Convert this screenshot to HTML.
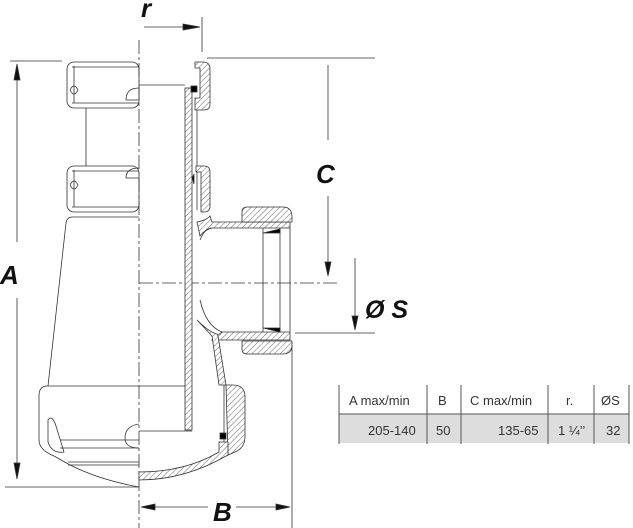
<!DOCTYPE html>
<html><head><meta charset="utf-8"><style>
html,body{margin:0;padding:0;background:#fff;}
svg{display:block;}
text{font-family:"Liberation Sans",sans-serif;}
</style></head><body>
<svg width="633" height="528" viewBox="0 0 633 528" xmlns="http://www.w3.org/2000/svg">
<defs>
<pattern id="h" patternUnits="userSpaceOnUse" width="4" height="4" patternTransform="rotate(45)">
<rect width="4" height="4" fill="#fff"/><line x1="0" y1="0" x2="0" y2="4" stroke="#444" stroke-width="0.8"/>
</pattern>
</defs>
<g fill="none" stroke="#333" stroke-width="0.8">
<!-- center line -->
<line x1="139" y1="40" x2="139" y2="528" stroke-dasharray="14,3,3,3"/>
<line x1="139" y1="283" x2="340" y2="283" stroke-dasharray="14,3,3,3"/>
<!-- r dimension -->
<line x1="144" y1="27" x2="195" y2="27"/>
<polygon points="183,24 200,27 183,30" fill="#111"/>
<line x1="202" y1="17" x2="202" y2="52"/>
<!-- top lines -->
<line x1="207" y1="58" x2="375" y2="58"/>
<line x1="10" y1="61" x2="62" y2="61"/>
<!-- A dimension -->
<line x1="17" y1="70" x2="17" y2="242"/>
<line x1="17" y1="298" x2="17" y2="472"/>
<polygon points="14,80 17,64 20,80" fill="#111"/>
<polygon points="14,463 17,479 20,463" fill="#111"/>
<line x1="5" y1="487" x2="139" y2="487"/>
<!-- left: nuts -->
<rect x="67" y="62" width="72" height="46" rx="7"/>
<line x1="72" y1="67" x2="139" y2="67"/>
<line x1="72" y1="103" x2="139" y2="103"/>
<path d="M74,66 L74,103 M70,90 q4,-8 8,0 q-4,8 -8,0"/>
<path d="M139,88 q-13,0 -13,12 l13,0"/>
<line x1="86" y1="108" x2="86" y2="166"/>
<rect x="67" y="166" width="72" height="46" rx="7"/>
<line x1="72" y1="171" x2="139" y2="171"/>
<line x1="72" y1="207" x2="139" y2="207"/>
<path d="M74,170 L74,207 M70,185 q4,-8 8,0 q-4,8 -8,0"/>
<path d="M139,168 q-13,0 -13,10 l13,0"/>
<!-- tapered body -->
<path d="M72,217 L139,217 M72,217 q-5,0 -6,6 L48,386"/>
<!-- bottom bowl -->
<path d="M139,386 L47,386 q-8,0 -8,10 L39,440 q0,10 15,16 L70,465 Q100,480 139,487"/>
<line x1="68" y1="465" x2="139" y2="465"/>
<line x1="68" y1="462" x2="139" y2="462"/>
<line x1="60" y1="440" x2="139" y2="440"/>
<line x1="60" y1="448" x2="139" y2="448"/>
<path d="M48,420 q4,-6 8,6 l8,26 q-12,2 -16,-10 z"/>
<path d="M139,424 q-14,2 -14,14 q0,10 14,10"/>
<!-- right side: inner tube -->
<line x1="139" y1="85" x2="185" y2="85"/>
<line x1="139" y1="431" x2="192" y2="431"/>
<line x1="139" y1="386" x2="185" y2="386"/>
<rect x="185" y="88" width="7" height="342" fill="url(#h)"/>
<line x1="197" y1="110" x2="197" y2="210"/>
<!-- top nut right -->
<path d="M195,62 L203,62 q7,0 7,7 L210,104 q0,6 -6,6 L195,110 L195,98 L200,98 L200,68 L195,68 Z" fill="url(#h)"/>
<rect x="191" y="86" width="6" height="6" fill="#000"/>
<!-- second nut right -->
<path d="M196,166 L204,166 q6,0 6,6 L210,206 q0,6 -6,6 L201,212 L201,172 L196,172 Z" fill="url(#h)"/>
<path d="M192,178 l2,-4 l0,10 z" fill="#000"/>
<!-- side outlet -->
<path d="M197,222 q10,-2 13,-6 l2,6 L290,222 L290,228 L212,228 q-8,2 -12,8 Z" fill="url(#h)"/>
<path d="M242,218 L242,212 q0,-5 5,-5 L283,207 q9,0 9,10 L292,222 L242,222 Z" fill="url(#h)"/>
<path d="M200,240 q5,-12 12,-12"/>
<path d="M200,300 q6,26 22,32"/>
<path d="M222,332 L290,332 L290,340 L212,340 Z" fill="url(#h)"/>
<path d="M242,341 L292,341 L292,345 q0,9 -9,9 L247,354 q-5,0 -5,-5 Z" fill="url(#h)"/>
<line x1="263" y1="228" x2="263" y2="332"/>
<line x1="280" y1="228" x2="280" y2="332"/>
<polygon points="263,233 280,229 280,233" fill="#000"/>
<polygon points="263,328 280,328 280,332" fill="#000"/>
<line x1="290" y1="228" x2="290" y2="332"/>
<!-- lower housing -->
<path d="M197,320 q12,12 20,14 L218,336 L226,385 L219,385 L212,336 Z" fill="url(#h)"/>
<path d="M226,385 L233,385 q12,0 12,12 L245,436 q0,12 -10,16 L228,455 Z" fill="url(#h)"/>
<line x1="224" y1="385" x2="224" y2="455"/>
<path d="M139,480 Q185,480 228,455 L228,442 L219,442 L219,452 Q185,472 139,472 Z" fill="url(#h)"/>
<rect x="220" y="433" width="6" height="6" fill="#000"/>
<!-- C dim -->
<line x1="328" y1="65" x2="328" y2="140"/>
<line x1="328" y1="196" x2="328" y2="270"/>
<polygon points="325,262 328,276 331,262" fill="#111"/>
<!-- S dim -->
<line x1="355" y1="258" x2="355" y2="328"/>
<polygon points="352,316 355,330 358,316" fill="#111"/>
<line x1="295" y1="333" x2="375" y2="333"/>
<!-- B dim -->
<line x1="292" y1="345" x2="292" y2="528"/>
<line x1="150" y1="507" x2="208" y2="507"/>
<line x1="236" y1="507" x2="283" y2="507"/>
<polygon points="155,504 141,507 155,510" fill="#111"/>
<polygon points="276,504 290,507 276,510" fill="#111"/>
</g>
<g font-weight="bold" font-style="italic" fill="#111">
<text x="141" y="17" font-size="26">r</text>
<text x="0" y="284" font-size="26">A</text>
<text x="316" y="183" font-size="26">C</text>
<text x="365" y="318" font-size="25">Ø S</text>
<text x="213" y="521" font-size="26">B</text>
</g>
<!-- table -->
<rect x="339" y="414" width="290" height="29" fill="#ddd"/>
<g stroke="#555" stroke-width="1">
<line x1="339" y1="414" x2="629" y2="414"/>
<line x1="339" y1="385" x2="339" y2="444"/>
<line x1="427" y1="385" x2="427" y2="444"/>
<line x1="461" y1="385" x2="461" y2="444"/>
<line x1="548" y1="385" x2="548" y2="444"/>
<line x1="594" y1="385" x2="594" y2="444"/>
<line x1="629" y1="385" x2="629" y2="444"/>
</g>
<g font-size="13" fill="#333">
<text x="349" y="405">A max/min</text>
<text x="438" y="405">B</text>
<text x="470" y="405">C max/min</text>
<text x="566" y="405">r.</text>
<text x="601" y="405">ØS</text>
<text x="368" y="435">205-140</text>
<text x="436" y="435">50</text>
<text x="498" y="435">135-65</text>
<text x="558" y="435">1 ¼’’</text>
<text x="606" y="435">32</text>
</g>
</svg>
</body></html>
